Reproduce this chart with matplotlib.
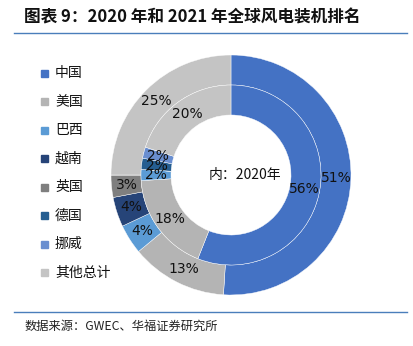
import matplotlib.pyplot as plt
from matplotlib.patches import Rectangle
import numpy as np

plt.rcParams['font.family'] = ['Noto Sans CJK SC', 'DejaVu Sans']

countries = ["中国", "美国", "巴西", "越南", "英国", "德国", "挪威", "其他总计"]
share_2021 = [51, 13, 4, 4, 3, 0, 0, 25]   # outer ring
share_2020 = [56, 18, 2, 0, 0, 2, 2, 20]   # inner ring
colors = ["#4472C4", "#B4B4B4", "#5B9BD5", "#264478", "#7F7F7F", "#255E91", "#698ED0", "#C4C4C4"]

W, H = 414, 346
fig = plt.figure(figsize=(W / 100, H / 100), dpi=100)

# title and rules
fig.text(24 / W, 1 - 17 / H, "图表 9：2020 年和 2021 年全球风电装机排名", fontsize=12,
         fontweight="bold", va="center", ha="left", color="#111111")
fig.add_artist(plt.Line2D([14 / W, 407 / W], [1 - 33 / H, 1 - 33 / H], color="#4A7EBB", lw=1))
fig.add_artist(plt.Line2D([14 / W, 407 / W], [1 - 312 / H, 1 - 312 / H], color="#4A7EBB", lw=1))
fig.text(25 / W, 1 - 326 / H, "数据来源：GWEC、华福证券研究所", fontsize=8.8, va="center",
         ha="left", color="#222222")

# donut
cx, cy, R = 231, 175, 120
ax = fig.add_axes([(cx - R) / W, 1 - (cy + R) / H, 2 * R / W, 2 * R / H])
ax.axis("off")

w = 30 / R
wedges_o, _ = ax.pie(share_2021, radius=1.0, colors=colors, startangle=90, counterclock=False,
                     wedgeprops=dict(width=w, edgecolor="white", linewidth=0.3))
wedges_i, _ = ax.pie(share_2020, radius=1.0 - w, colors=colors, startangle=90, counterclock=False,
                     wedgeprops=dict(width=w, edgecolor="white", linewidth=0.3))
ax.set_xlim(-1, 1)
ax.set_ylim(-1, 1)
ax.set_aspect("equal")


def put_labels(wedges, values, r):
    for wd, v in zip(wedges, values):
        if v == 0:
            continue
        ang = np.deg2rad((wd.theta1 + wd.theta2) / 2)
        ax.text(r * np.cos(ang), r * np.sin(ang), f"{v}%", ha="center", va="center",
                fontsize=10, color="#111111", family="DejaVu Sans")


put_labels(wedges_o, share_2021, 1 - w / 2)
put_labels(wedges_i, share_2020, 1 - 1.5 * w)
ax.text(14 / R, 0, "内：2020年", ha="center", va="center", fontsize=10, color="#111111")

# legend
for i, (name, c) in enumerate(zip(countries, colors)):
    y = 73 + i * 28.5
    fig.add_artist(Rectangle((41 / W, 1 - (y + 3.5) / H), 7 / W, 7 / H, color=c,
                             transform=fig.transFigure))
    fig.text(55 / W, 1 - y / H, name, fontsize=10, va="center", ha="left", color="#111111")

fig.savefig("out.png", dpi=100)
